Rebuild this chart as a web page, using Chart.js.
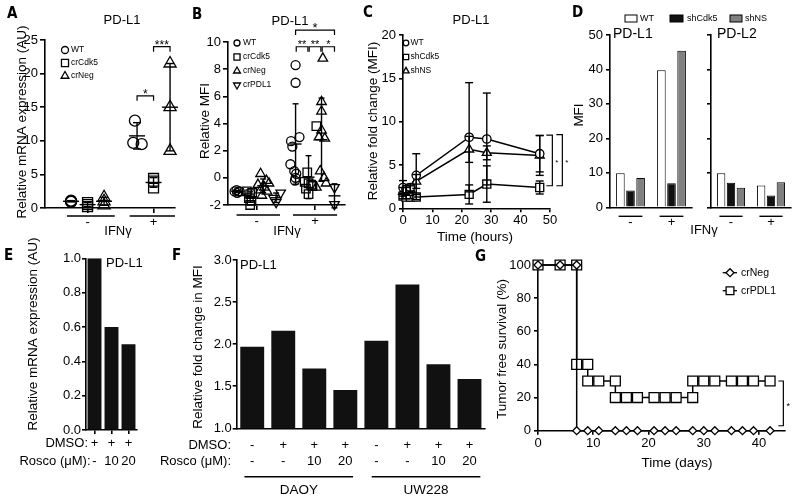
<!DOCTYPE html>
<html><head><meta charset="utf-8">
<script src="https://cdn.jsdelivr.net/npm/chart.js@4.4.1/dist/chart.umd.min.js"></script>
<style>
html,body{margin:0;padding:0;background:#fff;}
body{width:800px;height:499px;position:relative;overflow:hidden;}
canvas{position:absolute;left:0;top:0;}
</style></head><body>
<script>
const FONT = "'Liberation Sans', Arial, Helvetica, sans-serif";
const LETTER_FONT = "'Liberation Sans Narrow', 'DejaVu Sans Condensed', 'Liberation Sans', sans-serif";

// ===== Panel A: PD-L1 mRNA =====
const aGroupLabels = ['-', '+'];
const aGroupTickPos = [2, 6];
const aGroupSpans = [[0.75, 3.65], [4.55, 7.3]];
const aPosMinus = [1, 2, 3];
const aPosPlus = [5, 6, 7];
const aWT_minus = [1.1, 1.0, 0.9];
const aWT_plus = [13.0, 9.7, 9.5];
const aWT_plusJitter = [-0.13, -0.23, 0.28];
const aCdk5_minus = [0.8, 0.5, 0.2];
const aCdk5_plus = [4.4, 4.0, 3.0];
const aNeg_minus = [1.6, 1.0, 0.4];
const aNeg_plus = [21.5, 15.0, 8.5];
const aBrackets = [[5, 6, 16.7, '*'], [6, 7, 24.0, '***']];

// ===== Panel B: PD-L1 relative MFI =====
const bGroupLabels = ['-', '+'];
const bGroupTickPos = [2.5, 7];
const bGroupSpans = [[0.95, 4.3], [5.3, 8.7]];
const bPosMinus = [1, 2, 3, 4];
const bPosPlus = [5.5, 6.5, 7.5, 8.5];
const bWT_minus = [-1.0, -0.9, -1.0, -1.1, -1.0];
const bWT_minusJ = [-0.2, -0.05, 0.1, 0.0, 0.2];
const bCdk5_minus = [-1.0, -1.1, -1.2, -1.5, -1.7, -2.0];
const bCdk5_minusJ = [-0.25, 0.15, 0.0, -0.1, 0.1, 0.0];
const bNeg_minus = [0.3, -0.2, -0.5, -0.7, -0.9, -1.0, -1.3, -0.4];
const bNeg_minusJ = [-0.2, 0.25, -0.4, 0.1, -0.2, 0.3, -0.1, 0.45];
const bPDL1_minus = [-1.1, -1.5, -1.8];
const bPDL1_minusJ = [0.35, -0.2, 0.0];
const bWT_plus = [8.3, 7.0, 2.7, 3.0, 2.3, 1.0, 0.5, 0.3, 0.0, -0.2];
const bWT_plusJ = [0.0, 0.0, -0.35, 0.3, -0.25, -0.4, -0.1, 0.05, 0.0, -0.05];
const bCdk5_plus = [3.8, 0.4, -0.4, -0.6, -0.8, -1.2, -0.5, -0.3];
const bCdk5_plusJ = [0.6, -0.1, 0.0, 0.3, -0.2, 0.0, 0.2, -0.3];
const bNeg_plus = [8.8, 5.6, 4.9, 3.5, 3.0, 2.9, 0.5, 0.0, -0.4, -0.7];
const bNeg_plusJ = [0.1, 0.0, 0.0, 0.0, -0.2, 0.25, -0.1, 0.2, 0.35, -0.4];
const bPDL1_plus = [-0.7, -1.95];
const bPDL1_plusJ = [0.0, 0.0];
const bBrackets = [[5.5, 8.5, 10.88, '*', 13], [5.55, 6.45, 9.65, '**', 11], [6.55, 7.45, 9.65, '**', 11], [7.55, 8.5, 9.65, '*', 11]];

// ===== Panel C: time course =====
const cTime = [0, 1, 2.5, 4.5, 22.5, 28.5, 46.5];
const cWT = [2.4, 2.2, 2.4, 3.8, 8.2, 8.0, 6.3];
const cWTerr = [0.8, 0.4, 0.4, 2.5, 6.3, 5.3, 2.1];
const cShCdk5 = [1.4, 1.3, 1.3, 1.3, 1.6, 2.8, 2.4];
const cShCdk5err = [0.3, 0.2, 0.2, 0.3, 1.1, 2.1, 0.75];
const cShNS = [1.9, 2.0, 2.2, 3.1, 6.8, 6.4, 6.1];
const cShNSerr = [0.5, 0.4, 0.4, 0.8, 1.5, 0.8, 2.3];
const cBrackets = [[50.8, 8.45, 2.6, '*'], [54.2, 8.5, 2.6, '*']];

// ===== Panel D: MFI bars =====
const dGroups = ['-', '+'];
const dSeriesNames = ['WT', 'shCdk5', 'shNS'];
const dPDL1_WT = [9.9, 39.8];
const dPDL1_shCdk5 = [4.9, 7.0];
const dPDL1_shNS = [8.5, 45.4];
const dPDL2_WT = [9.9, 6.3];
const dPDL2_shCdk5 = [7.1, 3.4];
const dPDL2_shNS = [5.7, 7.3];

// ===== Panel E =====
const eDmso = ['+', '+', '+'];
const eRosco = ['-', '10', '20'];
const eValues = [1.0, 0.6, 0.5];

// ===== Panel F =====
const fDmso = ['-', '+', '+', '+', '-', '+', '+', '+'];
const fRosco = ['-', '-', '10', '20', '-', '-', '10', '20'];
const fValues = [1.97, 2.16, 1.71, 1.455, 2.04, 2.71, 1.76, 1.585];
const fCellLines = ['DAOY', 'UW228'];
const fCellSpans = [[-0.25, 3.25], [3.85, 7.35]];

// ===== Panel G: tumor free survival =====
const gNegX = [0, 4, 7, 7, 9, 11, 14, 16, 18, 21, 23, 25, 28, 30, 32, 35, 37, 39, 42];
const gNegY = [100, 100, 100, 0, 0, 0, 0, 0, 0, 0, 0, 0, 0, 0, 0, 0, 0, 0, 0];
const gPdlX = [0, 4, 7, 7, 9, 9, 11, 14, 14, 16, 18, 21, 23, 25, 28, 28, 30, 32, 35, 37, 39, 42];
const gPdlY = [100, 100, 100, 40, 40, 30, 30, 30, 20, 20, 20, 20, 20, 20, 20, 30, 30, 30, 30, 30, 30, 30];

// ================= helpers =================
Chart.defaults.font.family = FONT;
Chart.defaults.color = '#000';
const AX = 1.6;
const Y_BOX = 40;   // room reserved for y tick labels
const X_BOX = 60;   // room reserved for x tick labels

function T(ctx, s, x, y, o = {}) {
  ctx.save();
  ctx.fillStyle = '#000';
  ctx.font = (o.bold ? 'bold ' : '') + (o.size || 13) + 'px ' + (o.family || FONT);
  ctx.textAlign = o.align || 'center';
  ctx.textBaseline = o.base || 'middle';
  if (o.rot) { ctx.translate(x, y); ctx.rotate(o.rot); ctx.fillText(s, 0, 0); }
  else ctx.fillText(s, x, y);
  ctx.restore();
}
function L(ctx, pts, w) {
  ctx.save();
  ctx.strokeStyle = '#000'; ctx.lineWidth = w || 1.4; ctx.lineCap = 'butt';
  ctx.beginPath();
  pts.forEach((p, i) => i ? ctx.lineTo(p[0], p[1]) : ctx.moveTo(p[0], p[1]));
  ctx.stroke();
  ctx.restore();
}
function mark(ctx, style, x, y, r, rot, fill) {
  ctx.save();
  ctx.strokeStyle = '#000'; ctx.lineWidth = 1.3; ctx.fillStyle = fill || 'rgba(0,0,0,0)';
  Chart.helpers.drawPoint(ctx, { pointStyle: style, radius: r, rotation: rot || 0, borderWidth: 1.3 }, x, y);
  ctx.restore();
}
function starAt(ctx, s, cx, cy, size) { T(ctx, s, cx, cy + 0.59 * size, { size, base: 'alphabetic' }); }
const mean = a => a.reduce((s, v) => s + v, 0) / a.length;
const sdev = a => { const m = mean(a); return Math.sqrt(a.reduce((s, v) => s + (v - m) * (v - m), 0) / Math.max(1, a.length - 1)); };
function errBar(ctx, X, Y, pos, m, sd, capW, meanW) {
  const x = X(pos);
  L(ctx, [[x, Y(m - sd)], [x, Y(m + sd)]]);
  L(ctx, [[x - capW / 2, Y(m + sd)], [x + capW / 2, Y(m + sd)]]);
  L(ctx, [[x - capW / 2, Y(m - sd)], [x + capW / 2, Y(m - sd)]]);
  if (meanW) L(ctx, [[x - meanW / 2, Y(m)], [x + meanW / 2, Y(m)]]);
}

function yAxis(min, max, step, o = {}) {
  return {
    type: 'linear', position: 'left', min, max, bounds: 'data',
    afterFit: s => { s.width = Y_BOX; },
    ticks: { stepSize: step, includeBounds: false, color: '#000', padding: o.pad ?? 3,
      font: { family: FONT, size: 13 }, callback: o.cb || (v => String(v)) },
    grid: { display: true, drawOnChartArea: false, drawTicks: true, tickLength: o.tl ?? 4, color: '#000', lineWidth: AX },
    border: { display: true, color: '#000', width: AX }
  };
}
function xLinear(min, max, o = {}) {
  const ax = {
    type: 'linear', position: 'bottom', min, max, bounds: 'data',
    afterFit: s => { s.height = X_BOX; },
    ticks: { stepSize: o.step, includeBounds: false, autoSkip: false, maxRotation: 0, minRotation: 0, color: '#000',
      padding: o.pad ?? 0, font: { family: FONT, size: 13 }, callback: o.cb || (v => String(v)) },
    grid: { display: true, drawOnChartArea: false, drawTicks: true, tickLength: o.tl ?? 4, color: '#000', lineWidth: AX },
    border: { display: true, color: '#000', width: AX }
  };
  if (o.tickPos) ax.afterBuildTicks = s => { s.ticks = o.tickPos.map(v => ({ value: v })); };
  return ax;
}
function xCat(o = {}) {
  return {
    type: 'category', position: 'bottom', offset: true,
    afterFit: s => { s.height = X_BOX; },
    ticks: { autoSkip: false, maxRotation: 0, minRotation: 0, color: '#000', padding: o.pad ?? 0,
      font: { family: FONT, size: 13, lineHeight: o.lh ?? 1.2 } },
    grid: { display: !!o.tl, offset: false, drawOnChartArea: false, drawTicks: !!o.tl, tickLength: o.tl || 0, color: '#000', lineWidth: AX },
    border: { display: true, color: '#000', width: AX }
  };
}
function mk(area, config, draw) {
  const c = document.createElement('canvas');
  c.width = 800; c.height = 499;
  c.style.width = '800px'; c.style.height = '499px';
  document.body.appendChild(c);
  const opts = config.options || {};
  opts.responsive = false; opts.maintainAspectRatio = false; opts.animation = false;
  opts.devicePixelRatio = 1; opts.events = [];
  opts.layout = { autoPadding: false, padding: { left: area[0] - Y_BOX, top: area[1], right: 800 - area[2], bottom: 499 - area[3] - X_BOX } };
  opts.plugins = Object.assign({ legend: { display: false }, tooltip: { enabled: false }, title: { display: false } }, opts.plugins || {});
  config.options = opts;
  config.plugins = [{ id: 'panelExtras', afterDraw: ch => draw(ch, ch.ctx,
    v => ch.scales.x.getPixelForValue(v), v => ch.scales.y.getPixelForValue(v)) }];
  return new Chart(c, config);
}
function scatterDs(points, style, r, rot, fill) {
  return { data: points, pointStyle: style, pointRadius: r, pointRotation: rot || 0,
    borderColor: '#000', backgroundColor: fill || 'rgba(0,0,0,0)', pointBorderWidth: 1.3,
    pointBackgroundColor: fill || 'rgba(0,0,0,0)', showLine: false, clip: false };
}
const groupPts = (vals, pos, jit) => vals.map((v, k) => ({ x: pos + (jit ? jit[k] : 0), y: v }));

// ================= Panel A =================
const aSeries = [
  { name: 'WT', style: 'circle', r: 5.5, legR: 3.5, minus: aWT_minus, plus: aWT_plus, jPlus: aWT_plusJitter },
  { name: 'crCdk5', style: 'rect', r: 7, legR: 5, minus: aCdk5_minus, plus: aCdk5_plus },
  { name: 'crNeg', style: 'triangle', r: 7, legR: 4.5, minus: aNeg_minus, plus: aNeg_plus }
];
mk([45, 40, 175, 208], {
  type: 'scatter',
  data: { datasets: aSeries.map((s, i) => scatterDs(
    groupPts(s.minus, aPosMinus[i]).concat(groupPts(s.plus, aPosPlus[i], s.jPlus)), s.style, s.r)) },
  options: { scales: {
    x: xLinear(-0.58, 7.3, { tickPos: aGroupTickPos, cb: (v, i) => aGroupLabels[i], tl: 5, pad: 2 }),
    y: yAxis(0, 25, 5, { tl: 5, pad: 2 }) } }
}, (ch, ctx, X, Y) => {
  aSeries.forEach((s, i) => {
    errBar(ctx, X, Y, aPosMinus[i], mean(s.minus), sdev(s.minus), 8, 16);
    errBar(ctx, X, Y, aPosPlus[i], mean(s.plus), sdev(s.plus), 8, 16);
  });
  const gy = ch.chartArea.bottom + 8;
  aGroupSpans.forEach(([a, b]) => L(ctx, [[X(a), gy], [X(b), gy]]));
  aBrackets.forEach(([a, b, v, lab]) => {
    const yy = Y(v);
    L(ctx, [[X(a), yy + 5], [X(a), yy], [X(b), yy], [X(b), yy + 5]], 1.2);
    starAt(ctx, lab, (X(a) + X(b)) / 2, yy - 5, 12);
  });
  aSeries.forEach((s, i) => {
    mark(ctx, s.style, 65, 50 + i * 13, s.legR);
    T(ctx, s.name, 71, 50 + i * 13, { size: 8.5, align: 'left' });
  });
  T(ctx, 'A', 7, 14, { bold: true, size: 15, align: 'left', family: LETTER_FONT });
  T(ctx, 'PD-L1', 122, 20);
  T(ctx, 'Relative mRNA expression (AU)', 22, 122, { size: 13.5, rot: -Math.PI / 2 });
  T(ctx, 'IFNγ', 118, 231);
});

// ================= Panel B =================
const bSeries = [
  { name: 'WT', style: 'circle', r: 4.5, rot: 0, legR: 3, minus: bWT_minus, jm: bWT_minusJ, plus: bWT_plus, jp: bWT_plusJ },
  { name: 'crCdk5', style: 'rect', r: 6, rot: 0, legR: 4.3, minus: bCdk5_minus, jm: bCdk5_minusJ, plus: bCdk5_plus, jp: bCdk5_plusJ },
  { name: 'crNeg', style: 'triangle', r: 5.5, rot: 0, legR: 4, minus: bNeg_minus, jm: bNeg_minusJ, plus: bNeg_plus, jp: bNeg_plusJ },
  { name: 'crPDL1', style: 'triangle', r: 5.5, rot: 180, legR: 4, minus: bPDL1_minus, jm: bPDL1_minusJ, plus: bPDL1_plus, jp: bPDL1_plusJ }
];
mk([228, 42, 345, 205], {
  type: 'scatter',
  data: { datasets: bSeries.map((s, i) => scatterDs(
    groupPts(s.minus, bPosMinus[i], s.jm).concat(groupPts(s.plus, bPosPlus[i], s.jp)), s.style, s.r, s.rot)) },
  options: { scales: {
    x: xLinear(0.29, 9.31, { tickPos: bGroupTickPos, cb: (v, i) => bGroupLabels[i], tl: 5, pad: 4 }),
    y: yAxis(-2, 10, 2, { tl: 5, pad: 2 }) } }
}, (ch, ctx, X, Y) => {
  bSeries.forEach((s, i) => {
    errBar(ctx, X, Y, bPosMinus[i], mean(s.minus), sdev(s.minus), 6, 12);
    errBar(ctx, X, Y, bPosPlus[i], mean(s.plus), sdev(s.plus), 6, 12);
  });
  const gy = ch.chartArea.bottom + 10;
  bGroupSpans.forEach(([a, b]) => L(ctx, [[X(a), gy], [X(b), gy]]));
  bBrackets.forEach(([a, b, v, lab, sz]) => {
    const yy = Y(v);
    L(ctx, [[X(a), yy + 5], [X(a), yy], [X(b), yy], [X(b), yy + 5]], 1.2);
    starAt(ctx, lab, (X(a) + X(b)) / 2, yy - 5.5, sz);
  });
  bSeries.forEach((s, i) => {
    mark(ctx, s.style, 237, 43 + i * 14, s.legR, s.rot);
    T(ctx, s.name, 243, 43 + i * 14, { size: 8.5, align: 'left' });
  });
  T(ctx, 'B', 192, 15, { bold: true, size: 15, align: 'left', family: LETTER_FONT });
  T(ctx, 'PD-L1', 290, 21);
  T(ctx, 'Relative MFI', 205, 121, { size: 13.5, rot: -Math.PI / 2 });
  T(ctx, 'IFNγ', 287, 231);
});

// ================= Panel C =================
const cSeries = [
  { name: 'WT', style: 'circle', r: 4.2, legR: 2.8, vals: cWT, err: cWTerr },
  { name: 'shCdk5', style: 'rect', r: 5.7, legR: 3.8, vals: cShCdk5, err: cShCdk5err },
  { name: 'shNS', style: 'triangle', r: 5.2, legR: 3.6, vals: cShNS, err: cShNSerr }
];
mk([403, 35, 550, 208.3], {
  type: 'scatter',
  data: { datasets: cSeries.map(s => Object.assign(scatterDs(cTime.map((t, k) => ({ x: t, y: s.vals[k] })), s.style, s.r, 0, '#fff'),
    { showLine: true, borderWidth: 1.5 })) },
  options: { scales: { x: xLinear(0, 50, { step: 10, tl: 4, pad: 0 }), y: yAxis(0, 20, 5, { tl: 4, pad: 3 }) } }
}, (ch, ctx, X, Y) => {
  cSeries.forEach(s => cTime.forEach((t, k) => errBar(ctx, X, Y, t, s.vals[k], s.err[k], 8, 0)));
  cBrackets.forEach(([xv, y1, y2, lab]) => {
    const x = X(xv);
    L(ctx, [[x - 6, Y(y1)], [x, Y(y1)], [x, Y(y2)], [x - 6, Y(y2)]], 1.2);
    starAt(ctx, lab, x + 4.5, (Y(y1) + Y(y2)) / 2, 8);
  });
  cSeries.forEach((s, i) => {
    mark(ctx, s.style, 406, 43 + i * 14, s.legR);
    T(ctx, s.name, 410.5, 43 + i * 14, { size: 8.5, align: 'left' });
  });
  T(ctx, 'C', 363, 13, { bold: true, size: 15, align: 'left', family: LETTER_FONT });
  T(ctx, 'PD-L1', 471, 20);
  T(ctx, 'Relative fold change (MFI)', 373, 121, { size: 13.5, rot: -Math.PI / 2 });
  T(ctx, 'Time (hours)', 475, 237, { size: 13.5 });
});

// ================= Panel D =================
const dColors = ['#ffffff', '#111111', '#808080'];
function dDatasets(wt, cdk, ns) {
  return [wt, cdk, ns].map((d, i) => ({ label: dSeriesNames[i], data: d, backgroundColor: dColors[i],
    borderColor: '#000', borderWidth: 1, categoryPercentage: 0.74, barPercentage: 0.85 }));
}
function dGroupLines(ch, ctx, X) {
  const gy = ch.chartArea.bottom + 9;
  dGroups.forEach((g, i) => L(ctx, [[X(i - 0.29), gy], [X(i + 0.29), gy]]));
}
mk([610, 35, 692, 207.3], {
  type: 'bar',
  data: { labels: dGroups, datasets: dDatasets(dPDL1_WT, dPDL1_shCdk5, dPDL1_shNS) },
  options: { scales: { x: xCat({ pad: 7 }), y: yAxis(0, 50, 10, { tl: 4, pad: 3 }) } }
}, (ch, ctx, X, Y) => {
  dGroupLines(ch, ctx, X);
  const lx = [625, 670, 730], lw = [12, 13, 12], tx = [640, 687, 745];
  dSeriesNames.forEach((n, i) => {
    ctx.save(); ctx.fillStyle = dColors[i]; ctx.strokeStyle = '#000'; ctx.lineWidth = 1;
    ctx.fillRect(lx[i], 15, lw[i], 7); ctx.strokeRect(lx[i], 15, lw[i], 7); ctx.restore();
    T(ctx, n, tx[i], 18.5, { size: 9, align: 'left' });
  });
  T(ctx, 'D', 572, 13, { bold: true, size: 15, align: 'left', family: LETTER_FONT });
  T(ctx, 'MFI', 579, 115, { size: 13.5, rot: -Math.PI / 2 });
  T(ctx, 'PD-L1', 613, 34, { size: 14, align: 'left' });
  T(ctx, 'IFNγ', 704, 230);
});
mk([711, 35, 791, 207.3], {
  type: 'bar',
  data: { labels: dGroups, datasets: dDatasets(dPDL2_WT, dPDL2_shCdk5, dPDL2_shNS) },
  options: { scales: { x: xCat({ pad: 7 }), y: yAxis(0, 50, 10, { tl: 4, pad: 3, cb: () => '' }) } }
}, (ch, ctx, X, Y) => {
  dGroupLines(ch, ctx, X);
  T(ctx, 'PD-L2', 717, 34, { size: 14, align: 'left' });
});

// ================= Panel E =================
mk([86, 258.3, 137, 430], {
  type: 'bar',
  data: { labels: eDmso.map((d, i) => [d, eRosco[i]]),
    datasets: [{ data: eValues, backgroundColor: '#111', borderWidth: 0, categoryPercentage: 1, barPercentage: 0.82 }] },
  options: { scales: { x: xCat({ tl: 4, pad: 0, lh: 18 / 13 }), y: yAxis(0, 1, 0.2, { tl: 4, pad: 1, cb: v => v.toFixed(1) }) } }
}, (ch, ctx, X, Y) => {
  T(ctx, 'E', 4, 256, { bold: true, size: 15, align: 'left', family: LETTER_FONT });
  T(ctx, 'PD-L1', 106, 263, { align: 'left' });
  T(ctx, 'Relative mRNA expression (AU)', 33, 334, { size: 13.5, rot: -Math.PI / 2 });
  T(ctx, 'DMSO:', 88, 443, { align: 'right' });
  T(ctx, 'Rosco (μM):', 90.5, 461, { align: 'right' });
});

// ================= Panel F =================
mk([236.7, 260, 485, 428.3], {
  type: 'bar',
  data: { labels: fDmso.map((d, i) => [d, fRosco[i]]),
    datasets: [{ data: fValues, backgroundColor: '#111', borderWidth: 0, categoryPercentage: 1, barPercentage: 0.77 }] },
  options: { scales: { x: xCat({ pad: 8.7, lh: 16 / 13 }), y: yAxis(1, 3, 0.5, { tl: 4, pad: 1, cb: v => v.toFixed(1) }) } }
}, (ch, ctx, X, Y) => {
  const gy = ch.chartArea.bottom + 48.4;
  fCellSpans.forEach(([a, b], i) => {
    L(ctx, [[X(a), gy], [X(b), gy]]);
    T(ctx, fCellLines[i], (X(a) + X(b)) / 2, gy + 13.5, { size: 13.5 });
  });
  T(ctx, 'F', 172, 256, { bold: true, size: 15, align: 'left', family: LETTER_FONT });
  T(ctx, 'PD-L1', 240, 265, { align: 'left' });
  T(ctx, 'Relative fold change in MFI', 198, 347, { size: 13.5, rot: -Math.PI / 2 });
  T(ctx, 'DMSO:', 231, 445, { align: 'right' });
  T(ctx, 'Rosco (μM):', 231, 461, { align: 'right' });
});

// ================= Panel G =================
const gSeries = [
  { name: 'crNeg', style: 'rectRot', r: 4, xs: gNegX, ys: gNegY },
  { name: 'crPDL1', style: 'rect', r: 7, xs: gPdlX, ys: gPdlY }
];
mk([538, 265, 785, 430.7], {
  type: 'scatter',
  data: { datasets: gSeries.map(s => Object.assign(scatterDs(s.xs.map((x, k) => ({ x, y: s.ys[k] })), s.style, s.r, 0, '#fff'),
    { showLine: true, borderWidth: 1.5 })) },
  options: { scales: { x: xLinear(0, 44.7, { step: 10, tl: 4, pad: 0.5 }), y: yAxis(0, 100, 20, { tl: 4, pad: 3 }) } }
}, (ch, ctx, X, Y) => {
  const bx = X(44.4);
  L(ctx, [[bx - 5, Y(30)], [bx, Y(30)], [bx, Y(3)], [bx - 5, Y(3)]], 1.2);
  starAt(ctx, '*', bx + 5, (Y(30) + Y(3)) / 2, 9);
  gSeries.forEach((s, i) => {
    const ly = 272.7 + i * 18;
    L(ctx, [[722.7, ly], [737, ly]], 1.3);
    mark(ctx, s.style, 730, ly, s.style === 'rect' ? 5.5 : 4, 0, '#fff');
    T(ctx, s.name, 741, ly, { size: 10.5, align: 'left' });
  });
  T(ctx, 'G', 475, 257, { bold: true, size: 15, align: 'left', family: LETTER_FONT });
  T(ctx, 'Tumor free survival (%)', 502, 349, { size: 13.5, rot: -Math.PI / 2 });
  T(ctx, 'Time (days)', 677, 463, { size: 13.5 });
});
</script>
</body></html>
